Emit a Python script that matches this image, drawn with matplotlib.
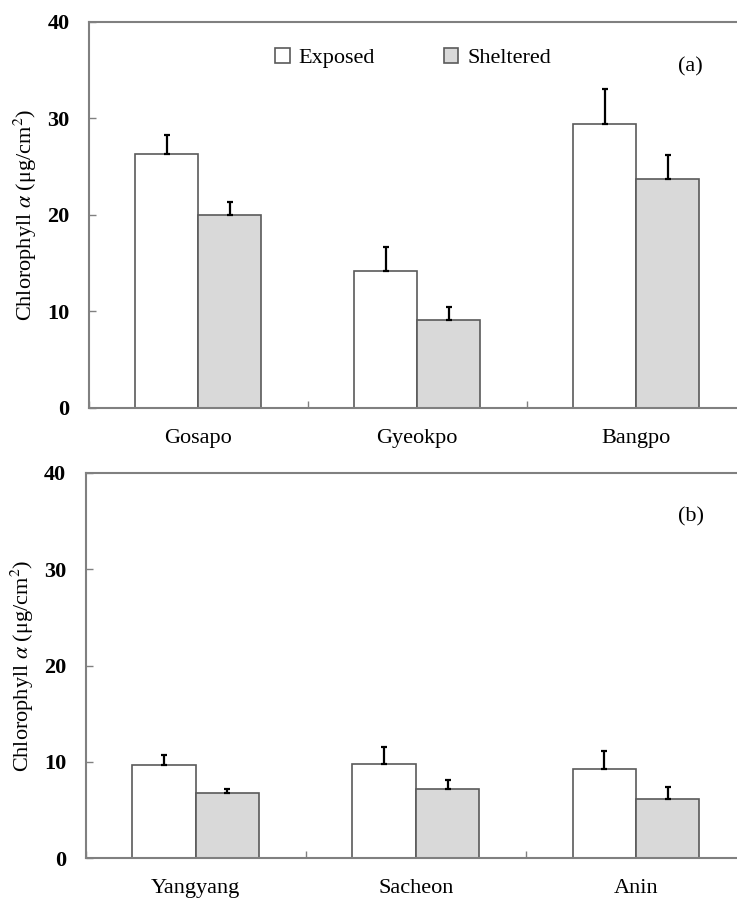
import numpy as np
import matplotlib
matplotlib.use('Agg')
import matplotlib.pyplot as plt
from matplotlib.patches import Patch

plt.rcParams['font.family'] = ['Liberation Serif', 'DejaVu Serif']
plt.rcParams['mathtext.fontset'] = 'stix'

# 数据 (a)
sites_a = ['Gosapo', 'Gyeokpo', 'Bangpo']
exposed_a = [26.3, 14.2, 29.4]
exposed_a_err = [2.0, 2.5, 3.7]
sheltered_a = [20.0, 9.1, 23.7]
sheltered_a_err = [1.3, 1.4, 2.5]

# 数据 (b)
sites_b = ['Yangyang', 'Sacheon', 'Anin']
exposed_b = [9.65, 9.8, 9.2]
exposed_b_err = [1.0, 1.75, 1.9]
sheltered_b = [6.8, 7.2, 6.15]
sheltered_b_err = [0.4, 0.95, 1.25]

W = 0.288
SPINE = '#808080'
EDGE = '#5a5a5a'
FS = 16


def draw_panel(ax, sites, exp, exp_err, shel, shel_err, tag, show_legend):
    x = np.arange(len(sites))
    ax.bar(x - W / 2, exp, W, color='white', edgecolor=EDGE, linewidth=1.2, zorder=2)
    ax.bar(x + W / 2, shel, W, color='#d9d9d9', edgecolor=EDGE, linewidth=1.2, zorder=2)
    z = np.zeros(len(sites))
    ax.errorbar(x - W / 2, exp, yerr=[z, exp_err], fmt='none', ecolor='black',
                elinewidth=1.6, capsize=2.5, capthick=1.6, zorder=3)
    ax.errorbar(x + W / 2, shel, yerr=[z, shel_err], fmt='none', ecolor='black',
                elinewidth=1.6, capsize=2.5, capthick=1.6, zorder=3)

    ax.set_xlim(-0.5, len(sites) - 0.5)
    ax.set_ylim(0, 40)
    ax.set_yticks([0, 10, 20, 30, 40])
    ax.tick_params(axis='y', direction='in', length=5, width=1, color=SPINE,
                   pad=14, labelsize=FS)
    for lab in ax.get_yticklabels():
        lab.set_fontweight('bold')

    # 类别边界处的刻度 + 居中的标签
    ax.set_xticks(np.arange(len(sites) + 1) - 0.5)
    ax.set_xticklabels([])
    ax.tick_params(axis='x', which='major', direction='in', length=5, width=1, color=SPINE)
    ax.set_xticks(x, minor=True)
    ax.set_xticklabels(sites, minor=True, fontsize=FS)
    ax.tick_params(axis='x', which='minor', length=0, pad=15)

    for s in ax.spines.values():
        s.set_color(SPINE)
        s.set_linewidth(1.5)
    ax.spines['right'].set_visible(False)

    ax.set_ylabel(r'Chlorophyll $\alpha$ (μg/cm$^2$)', fontsize=16, labelpad=6)
    ax.text(0.916, 0.885, tag, transform=ax.transAxes, fontsize=FS,
            ha='center', va='center')

    if show_legend:
        handles = [Patch(facecolor='white', edgecolor=EDGE, linewidth=1.2),
                   Patch(facecolor='#d9d9d9', edgecolor=EDGE, linewidth=1.2)]
        ax.legend(handles, ['Exposed', 'Sheltered'], ncol=2, frameon=False,
                  loc='center left', bbox_to_anchor=(0.284, 0.907),
                  borderpad=0, borderaxespad=0, handlelength=0.65,
                  handleheight=0.65, handletextpad=0.4, columnspacing=3.1,
                  fontsize=FS)


fig = plt.figure(figsize=(7.37, 8.98), dpi=100)
ax1 = fig.add_axes([89 / 737, 1 - 408 / 898, 656.5 / 737, 386 / 898])
ax2 = fig.add_axes([85.7 / 737, 1 - 858 / 898, 660.3 / 737, 385 / 898])

draw_panel(ax1, sites_a, exposed_a, exposed_a_err, sheltered_a, sheltered_a_err, '(a)', True)
draw_panel(ax2, sites_b, exposed_b, exposed_b_err, sheltered_b, sheltered_b_err, '(b)', False)

fig.savefig('out.png', dpi=100)
